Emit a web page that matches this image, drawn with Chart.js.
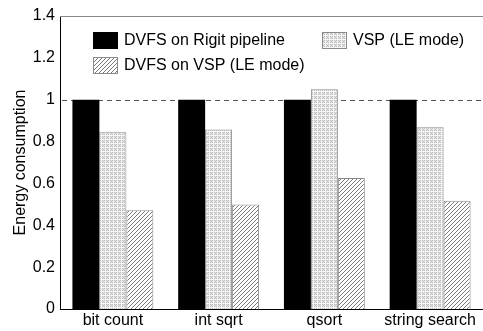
<!DOCTYPE html>
<html>
<head>
<meta charset="utf-8">
<script src="https://cdn.jsdelivr.net/npm/chart.js@4.4.0/dist/chart.umd.min.js"></script>
<style>
  html, body { margin: 0; padding: 0; background: #fff; }
  #wrap { width: 483px; height: 331px; }
</style>
</head>
<body>
<div id="wrap"><canvas id="energy" width="483" height="331"></canvas></div>
<script>
// ----------------------------------------
// Data
// ----------------------------------------
var categories = ['bit count', 'int sqrt', 'qsort', 'string search'];
var seriesNames = ['DVFS on Rigit pipeline', 'VSP (LE mode)', 'DVFS on VSP (LE mode)'];
var dvfsRigit = [1, 1, 1, 1];
var vspLE = [0.844, 0.858, 1.05, 0.869];
var dvfsVsp = [0.472, 0.499, 0.626, 0.517];
var yTicks = [0, 0.2, 0.4, 0.6, 0.8, 1, 1.2, 1.4];

var FONT = '"Liberation Sans", Arial, Helvetica, sans-serif';

// ----------------------------------------
// Fill patterns
// ----------------------------------------
function dottedPattern() {
    var c = document.createElement('canvas');
    c.width = 4; c.height = 4;
    var g = c.getContext('2d');
    g.fillStyle = '#e4e4e4';
    g.fillRect(0, 0, 4, 4);
    g.fillStyle = '#bcbcbc';
    for (var y = 0; y < 4; y++) {
        for (var x = 0; x < 4; x++) {
            if ((x + y) % 2 === 0) g.fillRect(x, y, 1, 1);
        }
    }
    g.fillStyle = '#f6f6f6';
    g.fillRect(1, 0, 1, 4);
    g.fillRect(0, 3, 4, 1);
    return g.createPattern(c, 'repeat');
}

function hatchPattern() {
    var c = document.createElement('canvas');
    c.width = 4; c.height = 4;
    var g = c.getContext('2d');
    g.fillStyle = '#ffffff';
    g.fillRect(0, 0, 4, 4);
    g.fillStyle = '#7a7a7a';
    g.fillRect(3, 0, 1, 1);
    g.fillRect(2, 1, 1, 1);
    g.fillRect(1, 2, 1, 1);
    g.fillRect(0, 3, 1, 1);
    return g.createPattern(c, 'repeat');
}

var fills = ['#000000', dottedPattern(), hatchPattern()];
var borders = ['#000000', '#8a8a8a', '#8a8a8a'];

// ----------------------------------------
// Extra drawing: frame top, reference line, legend
// ----------------------------------------
var extras = {
    id: 'extras',
    beforeDatasetsDraw: function (chart) {
        var ctx = chart.ctx;
        var area = chart.chartArea;
        var yPix = chart.scales.y.getPixelForValue(1);
        ctx.save();
        ctx.strokeStyle = '#555555';
        ctx.lineWidth = 1;
        ctx.setLineDash([5, 4]);
        ctx.beginPath();
        ctx.moveTo(area.left + 2, Math.round(yPix) + 0.5);
        ctx.lineTo(area.right, Math.round(yPix) + 0.5);
        ctx.stroke();
        ctx.setLineDash([]);
        ctx.strokeStyle = '#888888';
        ctx.beginPath();
        ctx.moveTo(area.left, area.top + 0.5);
        ctx.lineTo(area.right, area.top + 0.5);
        ctx.stroke();
        ctx.restore();
    },
    afterDraw: function (chart) {
        var ctx = chart.ctx;
        var items = [
            { x: 93, y: 32, text: seriesNames[0], i: 0 },
            { x: 322, y: 32, text: seriesNames[1], i: 1 },
            { x: 93, y: 57, text: seriesNames[2], i: 2 }
        ];
        ctx.save();
        ctx.font = '16px ' + FONT;
        ctx.textBaseline = 'middle';
        items.forEach(function (it) {
            ctx.fillStyle = fills[it.i];
            ctx.fillRect(it.x, it.y, 25, 17);
            ctx.strokeStyle = borders[it.i];
            ctx.lineWidth = 1;
            ctx.strokeRect(it.x + 0.5, it.y + 0.5, 24, 16);
            ctx.fillStyle = '#000';
            ctx.fillText(it.text, it.x + 31, it.y + 9);
        });
        ctx.restore();
    }
};

// ----------------------------------------
// Chart
// ----------------------------------------
var seriesValues = [dvfsRigit, vspLE, dvfsVsp];
var datasets = seriesValues.map(function (vals, i) {
    return {
        label: seriesNames[i],
        data: vals,
        backgroundColor: fills[i],
        borderColor: borders[i],
        borderWidth: i === 0 ? 0 : 1,
        borderSkipped: 'bottom',
        barPercentage: 1,
        categoryPercentage: 0.765
    };
});

var ctx = document.getElementById('energy').getContext('2d');
var chart = new Chart(ctx, {
    type: 'bar',
    data: { labels: categories, datasets: datasets },
    options: {
        responsive: false,
        animation: false,
        layout: { padding: { top: 16, right: 0, left: 0, bottom: 0 } },
        plugins: {
            legend: { display: false },
            tooltip: { enabled: false }
        },
        scales: {
            x: {
                grid: { display: false, drawTicks: false },
                border: { display: true, color: '#000', width: 1 },
                ticks: { color: '#000', padding: 2, maxRotation: 0, autoSkip: false,
                         font: { family: FONT, size: 16 } },
                afterFit: function (s) { s.height = 22; }
            },
            y: {
                min: 0,
                max: 1.4,
                afterBuildTicks: function (s) {
                    s.ticks = yTicks.map(function (v) { return { value: v }; });
                },
                grid: { display: false, drawTicks: false },
                border: { display: true, color: '#000', width: 1 },
                ticks: { color: '#000', padding: 5,
                         font: { family: FONT, size: 16 },
                         callback: function (v) { return String(v); } },
                title: { display: true, text: 'Energy consumption', color: '#000',
                         font: { family: FONT, size: 16 }, padding: { top: 11, bottom: 0 } },
                afterFit: function (s) { s.width = 60; }
            }
        }
    },
    plugins: [extras]
});
</script>
</body>
</html>
